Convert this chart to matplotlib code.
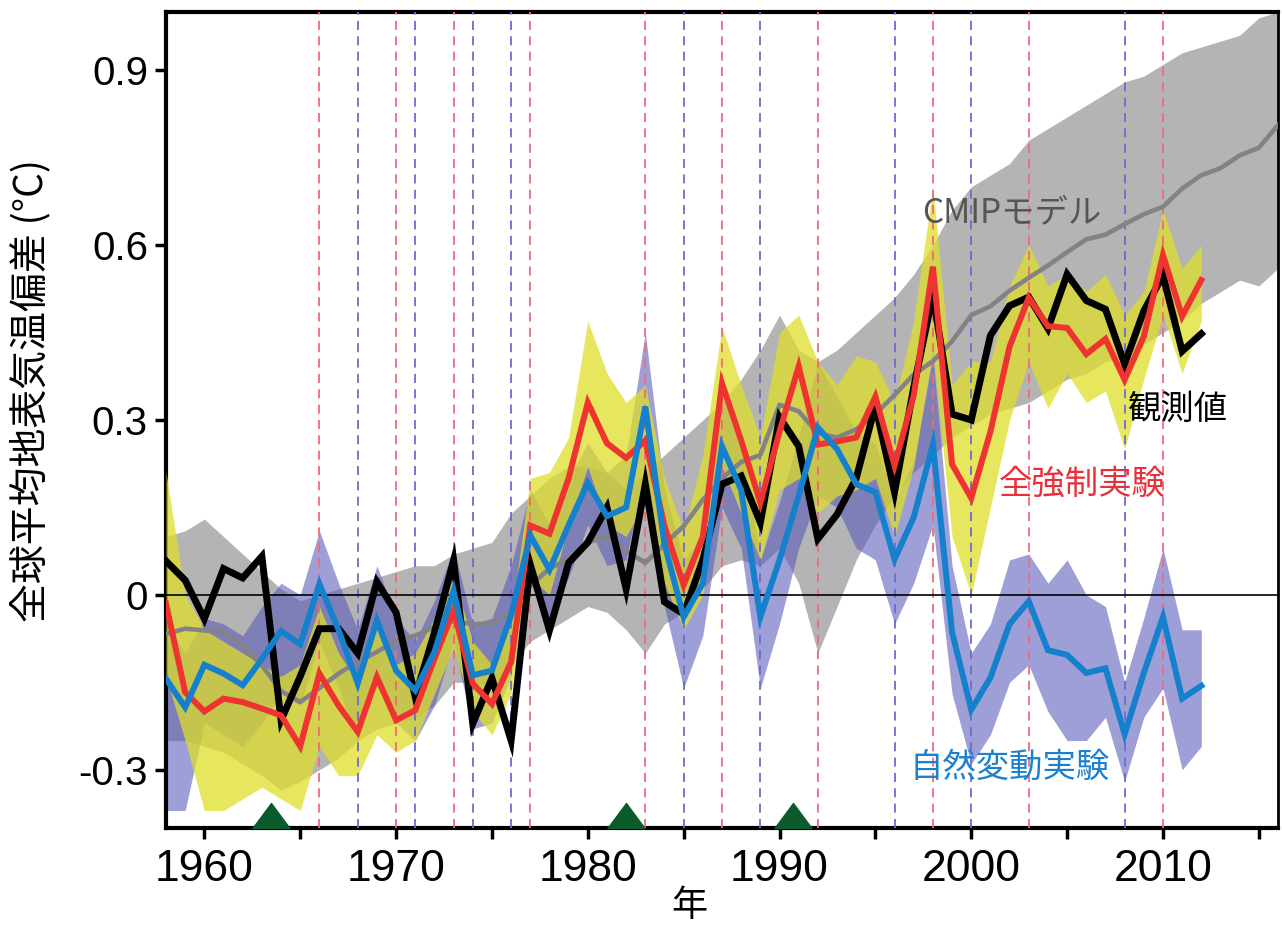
import matplotlib as mpl
mpl.use("Agg")
import matplotlib.pyplot as plt
import numpy as np
from matplotlib.path import Path

plt.rcParams["font.family"] = ["Noto Sans CJK JP", "DejaVu Sans"]

# --- data ----------------------------------------------------------------
years = np.arange(1958, 2013)
years_model = np.arange(1958, 2017)

obs = [0.058, 0.025, -0.041, 0.045, 0.029, 0.066, -0.215, -0.14, -0.058, -0.058,
       -0.10, 0.022, -0.03, -0.175, -0.065, 0.059, -0.221, -0.143, -0.25, 0.052,
       -0.061, 0.055, 0.09, 0.15, 0.01, 0.19, -0.012, -0.033, 0.06, 0.19,
       0.204, 0.124, 0.305, 0.255, 0.096, 0.138, 0.20, 0.325, 0.176, 0.356,
       0.515, 0.31, 0.30, 0.445, 0.496, 0.511, 0.457, 0.55, 0.505, 0.49,
       0.396, 0.487, 0.548, 0.418, 0.448]

allforcing = [-0.015, -0.167, -0.20, -0.178, -0.184, -0.195, -0.207, -0.26, -0.135, -0.19,
              -0.235, -0.141, -0.215, -0.198, -0.11, -0.027, -0.152, -0.187, -0.115, 0.119,
              0.105, 0.20, 0.33, 0.26, 0.235, 0.265, 0.118, 0.017, 0.10, 0.363,
              0.265, 0.158, 0.28, 0.392, 0.258, 0.263, 0.27, 0.34, 0.222, 0.342,
              0.563, 0.224, 0.166, 0.28, 0.426, 0.51, 0.461, 0.458, 0.413, 0.439,
              0.369, 0.443, 0.583, 0.478, 0.54]
allforcing_lo = [-0.14, -0.25, -0.37, -0.37, -0.35, -0.33, -0.35, -0.37, -0.26, -0.31,
                 -0.31, -0.24, -0.27, -0.25, -0.17, -0.09, -0.20, -0.24, -0.17, 0.03,
                 0.00, 0.12, 0.22, 0.12, 0.10, 0.16, 0.02, -0.06, 0.00, 0.22,
                 0.14, 0.06, 0.18, 0.20, 0.14, 0.17, 0.18, 0.20, 0.10, 0.22,
                 0.42, 0.10, 0.00, 0.15, 0.30, 0.40, 0.32, 0.38, 0.33, 0.35,
                 0.25, 0.37, 0.48, 0.38, 0.47]
allforcing_hi = [0.21, 0.00, -0.06, -0.08, -0.10, -0.12, -0.14, -0.12, -0.02, -0.10,
                 -0.15, -0.05, -0.12, -0.10, -0.04, 0.03, -0.08, -0.12, -0.04, 0.20,
                 0.21, 0.27, 0.47, 0.38, 0.33, 0.36, 0.20, 0.11, 0.24, 0.46,
                 0.36, 0.27, 0.45, 0.48, 0.40, 0.36, 0.41, 0.40, 0.33, 0.47,
                 0.70, 0.36, 0.40, 0.40, 0.53, 0.60, 0.53, 0.55, 0.52, 0.55,
                 0.48, 0.52, 0.66, 0.56, 0.60]

natural = [-0.144, -0.193, -0.12, -0.135, -0.155, -0.11, -0.062, -0.085, 0.019, -0.06,
           -0.152, -0.044, -0.13, -0.164, -0.098, 0.007, -0.138, -0.13, -0.035, 0.102,
           0.043, 0.12, 0.192, 0.135, 0.15, 0.323, 0.087, -0.038, 0.02, 0.255,
           0.18, -0.038, 0.06, 0.17, 0.287, 0.25, 0.19, 0.176, 0.061, 0.133,
           0.258, -0.064, -0.197, -0.142, -0.05, -0.011, -0.095, -0.103, -0.134, -0.126,
           -0.239, -0.134, -0.038, -0.178, -0.156]
natural_lo = [-0.37, -0.37, -0.22, -0.24, -0.26, -0.22, -0.17, -0.19, -0.08, -0.16,
              -0.25, -0.14, -0.22, -0.25, -0.19, -0.08, -0.23, -0.22, -0.14, 0.02,
              -0.04, 0.03, 0.12, 0.05, 0.06, 0.22, -0.02, -0.16, -0.07, 0.15,
              0.08, -0.16, -0.05, 0.08, 0.17, 0.15, 0.08, 0.06, -0.05, 0.02,
              0.12, -0.17, -0.29, -0.24, -0.15, -0.12, -0.20, -0.25, -0.25, -0.21,
              -0.32, -0.21, -0.16, -0.30, -0.26]
natural_hi = [-0.05, -0.10, -0.04, -0.05, -0.07, -0.02, 0.02, 0.00, 0.11, 0.02,
              -0.06, 0.05, -0.04, -0.08, -0.01, 0.08, -0.05, -0.04, 0.05, 0.18,
              0.12, 0.20, 0.26, 0.21, 0.24, 0.45, 0.18, 0.06, 0.10, 0.34,
              0.27, 0.06, 0.16, 0.27, 0.40, 0.34, 0.28, 0.26, 0.16, 0.23,
              0.41, 0.05, -0.10, -0.05, 0.06, 0.07, 0.02, 0.06, 0.00, -0.02,
              -0.15, -0.04, 0.08, -0.06, -0.06]

cmip = [-0.067, -0.058, -0.061, -0.064, -0.087, -0.121, -0.165, -0.184, -0.16, -0.135,
        -0.115, -0.098, -0.078, -0.07, -0.055, -0.045, -0.05, -0.05, -0.03, 0.016,
        0.045, 0.062, 0.09, 0.10, 0.075, 0.055, 0.087, 0.118, 0.163, 0.20,
        0.228, 0.24, 0.326, 0.315, 0.277, 0.27, 0.284, 0.31, 0.343, 0.378,
        0.401, 0.435, 0.48, 0.495, 0.522, 0.544, 0.565, 0.588, 0.61, 0.618,
        0.636, 0.653, 0.666, 0.697, 0.72, 0.732, 0.754, 0.767, 0.806]
cmip_lo = [-0.25, -0.25, -0.26, -0.27, -0.29, -0.31, -0.335, -0.32, -0.30, -0.28,
           -0.25, -0.23, -0.22, -0.21, -0.19, -0.15, -0.15, -0.16, -0.12, -0.08,
           -0.06, -0.04, -0.02, -0.03, -0.06, -0.10, -0.05, -0.03, 0.01, 0.05,
           0.06, 0.05, 0.08, 0.02, -0.10, -0.02, 0.06, 0.12, 0.17, 0.21,
           0.24, 0.27, 0.29, 0.31, 0.32, 0.33, 0.35, 0.37, 0.38, 0.40,
           0.41, 0.43, 0.45, 0.47, 0.50, 0.52, 0.54, 0.53, 0.56]
cmip_hi = [0.10, 0.11, 0.13, 0.10, 0.07, 0.04, 0.01, -0.01, 0.00, 0.01,
           0.02, 0.03, 0.04, 0.05, 0.05, 0.07, 0.08, 0.09, 0.14, 0.17,
           0.20, 0.22, 0.22, 0.21, 0.18, 0.21, 0.24, 0.27, 0.30, 0.33,
           0.37, 0.42, 0.48, 0.42, 0.40, 0.42, 0.45, 0.48, 0.51, 0.55,
           0.60, 0.66, 0.70, 0.72, 0.74, 0.78, 0.80, 0.82, 0.84, 0.86,
           0.88, 0.89, 0.91, 0.93, 0.94, 0.95, 0.96, 0.99, 1.00]

elnino_years = [1966, 1970, 1973, 1977, 1983, 1987, 1992, 1998, 2003, 2010]
lanina_years = [1968, 1971, 1974, 1976, 1985, 1989, 1996, 2000, 2008]
eruption_years = [1963.5, 1982.0, 1990.7]

# --- figure ---------------------------------------------------------------
fig = plt.figure(figsize=(12.82, 9.35), dpi=100)
ax = fig.add_axes([166 / 1282, 107 / 935, 1112 / 1282, 816 / 935])

ax.fill_between(years_model, cmip_lo, cmip_hi, color="#949496", alpha=0.7, lw=0, zorder=1)
ax.fill_between(years, natural_lo, natural_hi, color="#5a5abb", alpha=0.58, lw=0, zorder=2)
ax.fill_between(years, allforcing_lo, allforcing_hi, color="#dede2a", alpha=0.75, lw=0, zorder=3)

for yr in elnino_years:
    ax.axvline(yr, color="#f06a78", lw=1.3, ls=(0, (5, 3.5)), zorder=4)
for yr in lanina_years:
    ax.axvline(yr, color="#6e6ad0", lw=1.3, ls=(0, (5, 3.5)), zorder=4)

ax.axhline(0, color="black", lw=1.2, zorder=4)

ax.plot(years_model, cmip, color="#838385", lw=3.3, zorder=5)
ax.plot(years, obs, color="black", lw=5, zorder=6, solid_joinstyle="miter")
ax.plot(years, allforcing, color="#ee3330", lw=4.3, zorder=7, solid_joinstyle="miter")
ax.plot(years, natural, color="#1580cc", lw=4.3, zorder=8, solid_joinstyle="miter")

tri = Path([(-1, 0), (1, 0), (0, 1.35), (-1, 0)],
           [Path.MOVETO, Path.LINETO, Path.LINETO, Path.CLOSEPOLY])
ax.plot(eruption_years, [-0.4] * len(eruption_years), ls="none", marker=tri,
        markersize=36, color="#0b5a2c", clip_on=False, zorder=9)

ax.set_xlim(1958, 2016)
ax.set_ylim(-0.4, 1.0)

ax.set_xticks(np.arange(1960, 2016, 5))
ax.set_xticklabels([str(y) if y % 10 == 0 else "" for y in range(1960, 2016, 5)])
ax.set_yticks([-0.3, 0, 0.3, 0.6, 0.9])
ax.set_yticklabels(["-0.3", "0", "0.3", "0.6", "0.9"])

for lbl in ax.get_xticklabels():
    lbl.set_fontfamily(["Liberation Sans", "DejaVu Sans"])
    lbl.set_fontsize(32)
for lbl in ax.get_yticklabels():
    lbl.set_fontfamily(["Liberation Sans", "DejaVu Sans"])
    lbl.set_fontsize(29)

ax.tick_params(axis="both", direction="out", length=8, width=2.5, color="black")
ax.tick_params(axis="x", pad=7)
ax.tick_params(axis="y", pad=5)
for side in ["left", "bottom", "top"]:
    ax.spines[side].set_linewidth(3)
ax.spines["right"].set_linewidth(2)

ax.set_ylabel("全球平均地表気温偏差 (°C)", fontsize=28)
ax.yaxis.set_label_coords(-0.103, 0.536)
ax.set_xlabel("年", fontsize=26)
ax.xaxis.set_label_coords(0.471, -0.074)

ax.text(2002.1, 0.656, "CMIPモデル", color="#555555", fontsize=24, ha="center", va="center", zorder=10)
ax.text(2010.8, 0.318, "観測値", color="black", fontsize=24, ha="center", va="center", zorder=10)
ax.text(2005.8, 0.19, "全強制実験", color="#e8303a", fontsize=24, ha="center", va="center", zorder=10)
ax.text(2002.0, -0.295, "自然変動実験", color="#1a80d0", fontsize=24, ha="center", va="center", zorder=10)

fig.savefig("out.png", dpi=100)
plt.close(fig)
